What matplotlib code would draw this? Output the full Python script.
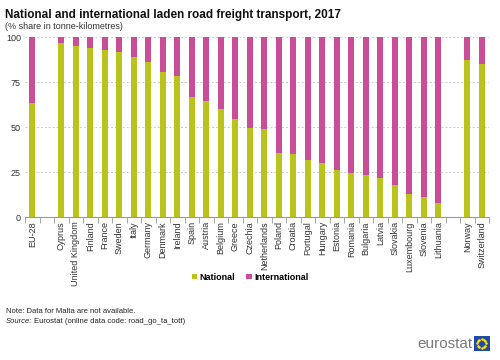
import matplotlib
matplotlib.use("Agg")
import matplotlib.pyplot as plt
from matplotlib.patches import Rectangle
import numpy as np

categories = ["EU-28", "", "Cyprus", "United Kingdom", "Finland", "France", "Sweden", "Italy",
              "Germany", "Denmark", "Ireland", "Spain", "Austria", "Belgium", "Greece",
              "Czechia", "Netherlands", "Poland", "Croatia", "Portugal", "Hungary", "Estonia",
              "Romania", "Bulgaria", "Latvia", "Slovakia", "Luxembourg", "Slovenia",
              "Lithuania", "", "Norway", "Switzerland"]
national = [63.2, None, 96.7, 95.2, 93.9, 92.6, 91.9, 89.1, 86.2, 80.8, 78.6, 66.5, 64.3,
            59.8, 54.3, 49.3, 48.8, 35.4, 35.2, 31.5, 29.8, 26.2, 24.5, 23.6, 21.7, 17.7,
            12.7, 11.0, 7.9, None, 87.3, 85.3]

green = "#b9c31b"
pink = "#c94d97"

plt.rcParams['font.family'] = ['Liberation Sans', 'DejaVu Sans']
fig = plt.figure(figsize=(5, 3.6), dpi=100)
ax = fig.add_axes([0.05, 0.397, 0.928, 0.5])

x = np.arange(len(categories))
nat = np.array([np.nan if v is None else v for v in national])
intl = 100 - nat
mask = ~np.isnan(nat)
ax.bar(x[mask], nat[mask], width=0.42, color=green, label="National", zorder=3)
ax.bar(x[mask], intl[mask], bottom=nat[mask], width=0.42, color=pink, label="International", zorder=3)

ax.set_xlim(-0.5, len(categories) - 0.5)
ax.set_ylim(0, 100)
ax.set_yticks([0, 25, 50, 75, 100])
ax.tick_params(axis='y', length=0, labelsize=6.5, pad=3, colors="#333333")
ax.set_xticks(x)
ax.set_xticklabels(categories, rotation=90, fontsize=6.5, color="#333333")
ax.tick_params(axis='x', length=0, pad=3)
ax.set_xticks(np.arange(-0.5, len(categories), 1), minor=True)
ax.tick_params(axis='x', which='minor', length=4, color="#999999")
ax.grid(axis='y', linestyle=(0, (2, 2)), color="#cccccc", linewidth=0.7, zorder=0)
for s in ['top', 'right', 'left']:
    ax.spines[s].set_visible(False)
ax.spines['bottom'].set_color("#999999")
ax.spines['bottom'].set_linewidth(0.8)

fig.text(0.01, 0.975, "National and international laden road freight transport, 2017",
         fontsize=8.5, fontweight='bold', va='top', color="#111111")
fig.text(0.01, 0.94, "(% share in tonne-kilometres)", fontsize=6.5, va='top', color="#333333")

leg = fig.legend(loc='center', bbox_to_anchor=(0.5, 0.23), ncol=2, frameon=False,
                 fontsize=6.5, handlelength=0.6, handleheight=0.6, handletextpad=0.3,
                 columnspacing=1.2)
for t in leg.get_texts():
    t.set_fontweight('bold')

fig.text(0.012, 0.13, "Note: Data for Malta are not available.", fontsize=5.5, color="#222222")
fig.text(0.012, 0.102, "Source:", fontsize=5.5, color="#222222", style='italic')
fig.text(0.067, 0.102, "Eurostat (online data code: road_go_ta_tott)", fontsize=5.5, color="#222222")

fig.text(0.944, 0.045, "eurostat", fontsize=11, color="#7a7a7a", ha='right', va='center')
fig.patches.append(Rectangle((0.947, 0.025), 0.032, 0.042, transform=fig.transFigure,
                             facecolor="#1f4aa8", edgecolor='none'))
ang = np.linspace(0, 2 * np.pi, 12, endpoint=False)
cx, cy = 0.963, 0.046
fig.add_artist(plt.Line2D(cx + 0.0085 * np.cos(ang), cy + 0.0115 * np.sin(ang), linestyle='none',
                          marker='o', markersize=0.9, color="#ffdd00", transform=fig.transFigure))

fig.savefig("out.png", dpi=100)
